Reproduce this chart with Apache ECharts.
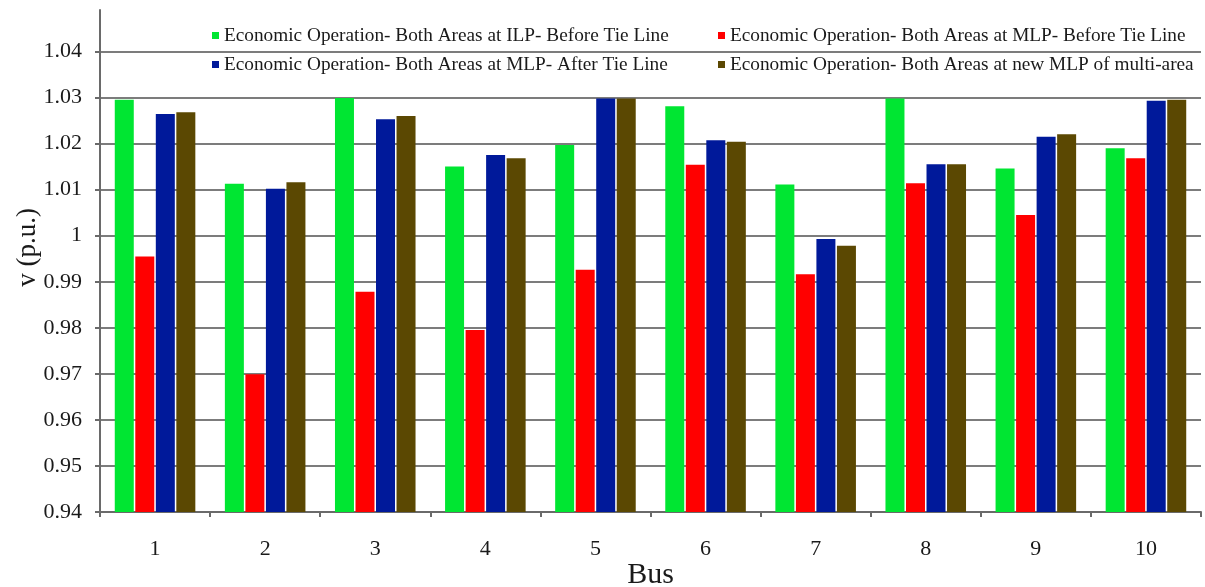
<!DOCTYPE html>
<html>
<head>
<meta charset="utf-8">
<script src="https://cdn.jsdelivr.net/npm/echarts@6/dist/echarts.min.js"></script>
<style>
  html, body { margin: 0; padding: 0; background: #ffffff; overflow: hidden; }
  #chart { width: 1205px; height: 587px; }
</style>
</head>
<body>
<div id="chart"></div>
<script>
// Bus voltage magnitudes (p.u.) for the four operating cases
const buses = ['1', '2', '3', '4', '5', '6', '7', '8', '9', '10'];

const seriesNames = [
  'Economic Operation- Both Areas at ILP- Before Tie Line',
  'Economic Operation- Both Areas at MLP- Before Tie Line',
  'Economic Operation- Both Areas at MLP- After Tie Line',
  'Economic Operation- Both Areas at new MLP of multi-area'
];

const ilpBeforeTie = [1.0295, 1.0113, 1.0299, 1.0150, 1.0197, 1.0281, 1.0111, 1.0298, 1.0146, 1.0190];
const mlpBeforeTie = [0.9955, 0.9699, 0.9878, 0.9795, 0.9926, 1.0154, 0.9916, 1.0114, 1.0045, 1.0168];
const mlpAfterTie  = [1.0264, 1.0102, 1.0253, 1.0175, 1.0298, 1.0207, 0.9993, 1.0155, 1.0215, 1.0293];
const newMlpMulti  = [1.0268, 1.0116, 1.0260, 1.0168, 1.0298, 1.0204, 0.9978, 1.0155, 1.0220, 1.0295];

const colors = ['#00e632', '#ff0000', '#00199a', '#5b4802'];

const serif = '"Liberation Serif", "DejaVu Serif", serif';
const textColor = '#1a1a1a';

const chart = echarts.init(document.getElementById('chart'));

const valueSets = [ilpBeforeTie, mlpBeforeTie, mlpAfterTie, newMlpMulti];

const series = valueSets.map((vals, i) => ({
  name: seriesNames[i],
  type: 'bar',
  data: vals,
  barWidth: 19,
  barGap: '8%',
  itemStyle: { color: colors[i] },
  emphasis: { disabled: true },
  animation: false
}));

const legendCommon = {
  orient: 'vertical',
  top: 21,
  itemWidth: 7,
  itemHeight: 7,
  itemGap: 10,
  icon: 'rect',
  selectedMode: false,
  textStyle: { fontFamily: serif, fontSize: 19.3, color: textColor }
};

chart.setOption({
  animation: false,
  backgroundColor: '#ffffff',
  color: colors,
  grid: {
    left: 100, top: 10, width: 1101, height: 502,
    containLabel: false,
    outerBoundsMode: 'none'
  },
  legend: [
    Object.assign({ left: 207, data: [seriesNames[0], seriesNames[2]] }, legendCommon),
    Object.assign({ left: 713, data: [seriesNames[1], seriesNames[3]] }, legendCommon)
  ],
  xAxis: {
    type: 'category',
    data: buses,
    boundaryGap: true,
    name: 'Bus',
    nameLocation: 'middle',
    nameGap: 48,
    nameMoveOverlap: false,
    nameTextStyle: { fontFamily: serif, fontSize: 30, color: textColor },
    axisLine: { lineStyle: { color: '#6a6a6a', width: 2 } },
    axisTick: { show: true, length: 5, lineStyle: { color: '#6a6a6a', width: 2 } },
    axisLabel: { fontFamily: serif, fontSize: 22, color: textColor, margin: 26 },
    splitLine: { show: false }
  },
  yAxis: {
    type: 'value',
    min: 0.94,
    max: 1.049,
    interval: 0.01,
    axisLine: { show: true, lineStyle: { color: '#6a6a6a', width: 2 } },
    axisTick: { show: true, length: 5, lineStyle: { color: '#6a6a6a', width: 2 } },
    axisLabel: {
      fontFamily: serif, fontSize: 22, color: textColor, margin: 18,
      showMaxLabel: false,
      formatter: v => String(Math.round(v * 100) / 100)
    },
    splitLine: { show: true, showMaxLine: false, lineStyle: { color: '#7c7c7c', width: 2 } }
  },
  graphic: [{
    type: 'text',
    left: 14,
    top: 208,
    rotation: Math.PI / 2,
    style: {
      text: 'v (p.u.)',
      fontFamily: serif,
      fontSize: 27,
      fill: textColor
    }
  }],
  series: series
});
</script>
</body>
</html>
